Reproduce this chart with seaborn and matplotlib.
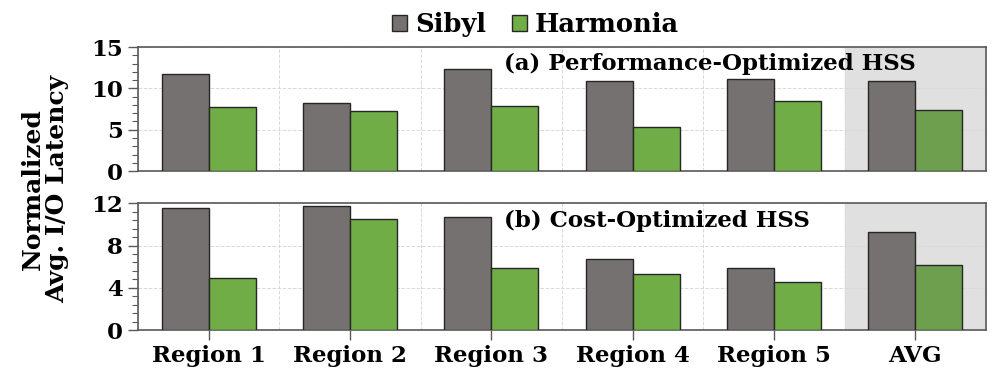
import numpy as np
import pandas as pd
import matplotlib
matplotlib.use("Agg")
import matplotlib.pyplot as plt
import seaborn as sns
from matplotlib.ticker import MultipleLocator
from matplotlib.patches import Patch

# Data
regions = ['Region 1', 'Region 2', 'Region 3', 'Region 4', 'Region 5', 'AVG']
systems = ['Sibyl', 'Harmonia']
perf_sibyl = [11.8, 8.2, 12.3, 10.9, 11.1, 10.9]
perf_harmonia = [7.7, 7.25, 7.9, 5.3, 8.5, 7.4]
cost_sibyl = [11.6, 11.7, 10.7, 6.75, 5.85, 9.3]
cost_harmonia = [4.9, 10.5, 5.85, 5.27, 4.55, 6.2]

colors = {'Sibyl': '#767171', 'Harmonia': '#70AD47'}
avg_green = '#6E9F4E'

sns.set_style('white')
plt.rcParams['font.family'] = ['DejaVu Serif']
plt.rcParams['font.weight'] = 'bold'
plt.rcParams['text.color'] = 'black'

def make_df(sib, har):
    return pd.DataFrame({
        'Region': regions * 2,
        'System': ['Sibyl'] * len(regions) + ['Harmonia'] * len(regions),
        'Latency': sib + har,
    })

fig = plt.figure(figsize=(9.97, 3.71), dpi=100)
ax1 = fig.add_axes([0.1384, 0.539, 0.8506, 0.334])
ax2 = fig.add_axes([0.1384, 0.1105, 0.8506, 0.3415])

panels = [
    (ax1, make_df(perf_sibyl, perf_harmonia), 15, 5, '(a) Performance-Optimized HSS'),
    (ax2, make_df(cost_sibyl, cost_harmonia), 12, 4, '(b) Cost-Optimized HSS'),
]

for ax, df, ymax, step, title in panels:
    ax.axvspan(4.5, 5.5, color='#E0E0E0', zorder=0)
    sns.barplot(data=df, x='Region', y='Latency', hue='System', order=regions,
                hue_order=systems, palette=colors, width=0.667, dodge=True,
                edgecolor='#262626', linewidth=1.0, saturation=1, ax=ax,
                legend=False, zorder=3)
    # AVG Harmonia bar looks a little darker in the original
    for p in ax.patches:
        if abs(p.get_x() + p.get_width() / 2 - (5 + 0.667 / 4)) < 0.05:
            p.set_facecolor(avg_green)
    ax.set_xlim(-0.5, 5.5)
    ax.set_ylim(0, ymax)
    ax.yaxis.set_major_locator(MultipleLocator(step))
    ax.yaxis.set_minor_locator(MultipleLocator(step / 5))
    ax.xaxis.set_minor_locator(MultipleLocator(1, offset=0.5))
    ax.grid(which='major', axis='y', color='#D9D9D9', linestyle='--', linewidth=0.7, zorder=1)
    ax.grid(which='minor', axis='x', color='#D9D9D9', linestyle='--', linewidth=0.7, zorder=1)
    ax.set_axisbelow(True)
    ax.set_xlabel('')
    ax.set_ylabel('')
    for s in ax.spines.values():
        s.set_color('#595959')
        s.set_linewidth(1.2)
    ax.tick_params(axis='y', which='major', left=True, direction='out', length=7, width=1,
                   color='#595959', labelcolor='black', labelsize=16.5, pad=4)
    ax.tick_params(axis='y', which='minor', left=True, direction='out', length=4, width=0.8,
                   color='#595959')
    ax.tick_params(axis='x', which='minor', bottom=False, length=0)
    ax.text(0.432, 0.95, title, transform=ax.transAxes, ha='left', va='top',
            fontsize=16.5, fontweight='bold', zorder=5)

ax1.tick_params(axis='x', which='major', bottom=False, length=0, labelbottom=False)
ax2.tick_params(axis='x', which='major', bottom=True, direction='out', length=7, width=1,
                color='#595959', labelcolor='black', labelsize=16.5, pad=4)

handles = [Patch(facecolor=colors[s], edgecolor='#262626', label=s) for s in systems]
fig.legend(handles=handles, loc='upper center', bbox_to_anchor=(0.537, 1.03), ncol=2,
           frameon=False, fontsize=18.5, handlelength=0.6, handleheight=0.6,
           handletextpad=0.3, columnspacing=1.0)

fig.text(0.045, 0.49, 'Normalized\nAvg. I/O Latency', rotation=90, ha='center',
         va='center', fontsize=18, fontweight='bold', linespacing=1.0)

fig.savefig('out.png', dpi=100)
